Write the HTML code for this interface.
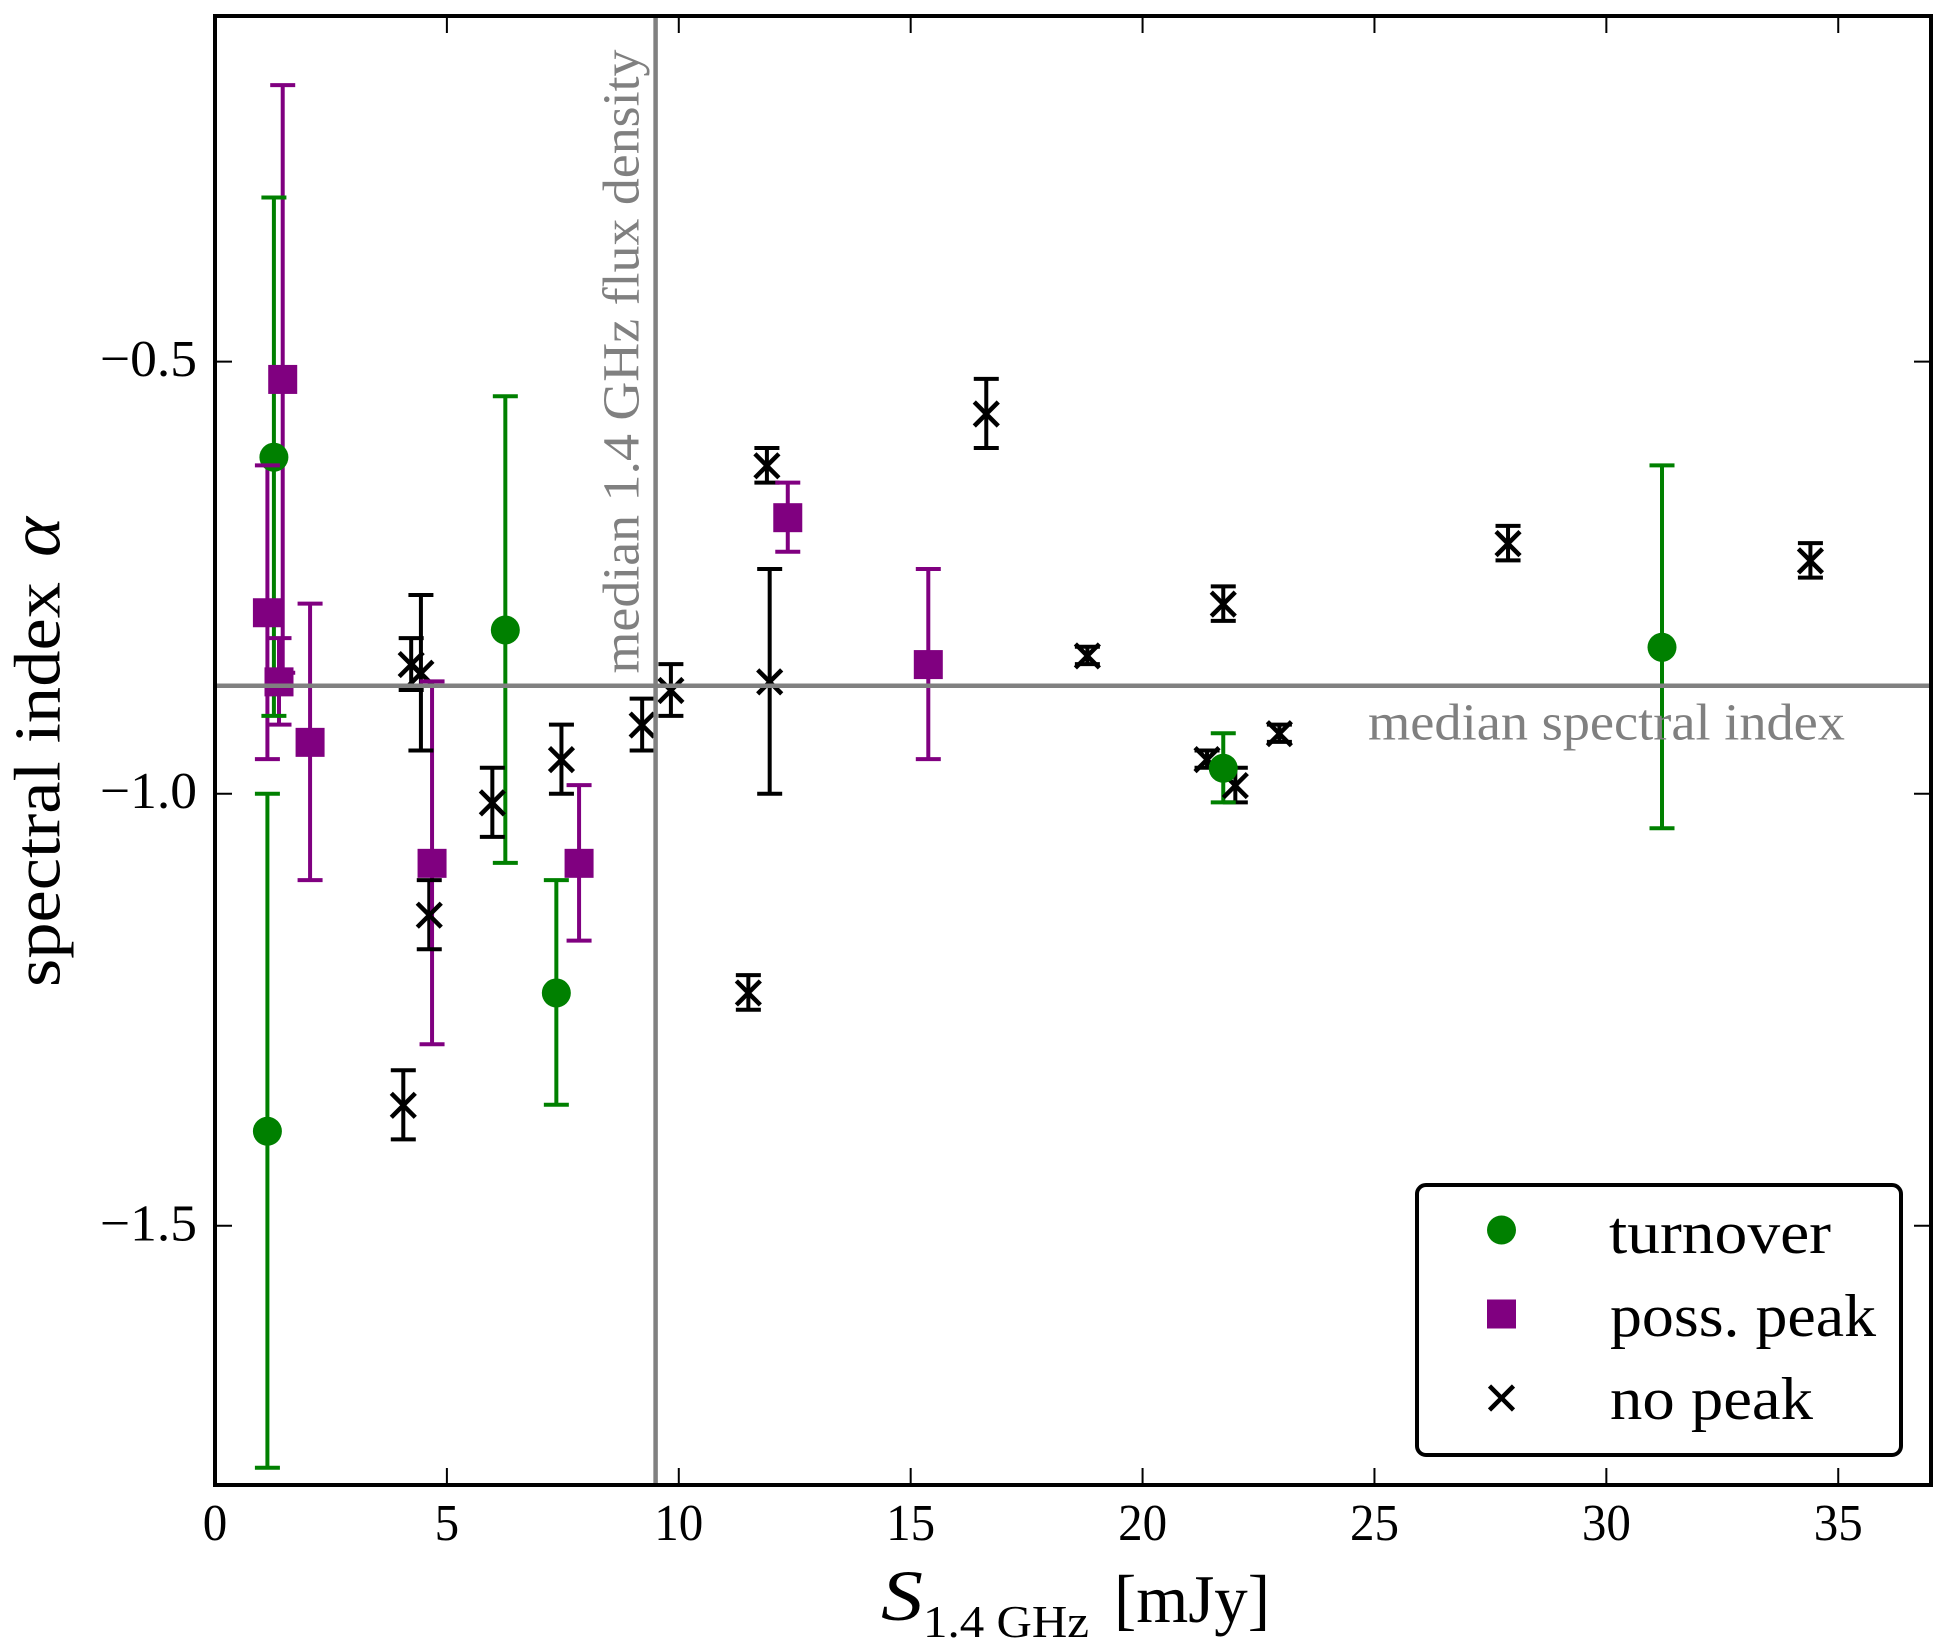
<!DOCTYPE html>
<html lang="en">
<head>
<meta charset="utf-8">
<title>Spectral index vs flux density</title>
<style>
html,body{margin:0;padding:0;background:#fff;width:1950px;height:1650px;overflow:hidden}
svg{display:block}
text{font-family:"Liberation Serif","DejaVu Serif",serif;fill:#000}
.gray{fill:#808080}
</style>
</head>
<body>
<svg id="chart" xmlns="http://www.w3.org/2000/svg" width="1950" height="1650" viewBox="0 0 1950 1650">
  <g id="bars"></g>
  <g id="marks"></g>
  <line id="median-v" stroke="#808080" stroke-width="4.5"></line>
  <line id="median-h" stroke="#808080" stroke-width="4.5"></line>
  <text class="gray" transform="translate(638.5,673.5) rotate(-90)" font-size="52" textLength="624" lengthAdjust="spacingAndGlyphs">median 1.4 GHz flux density</text>
  <text class="gray" x="1368" y="739.5" font-size="52" textLength="477" lengthAdjust="spacingAndGlyphs">median spectral index</text>
  <g id="ticks"></g>
  <rect x="215" y="16" width="1716" height="1469" fill="none" stroke="#000" stroke-width="4"></rect>
  <g>
    <text transform="translate(59.5,987) rotate(-90)" font-size="66" textLength="405" lengthAdjust="spacingAndGlyphs">spectral index</text>
    <text transform="translate(59.5,557) rotate(-90)" font-size="72" font-style="italic" textLength="40" lengthAdjust="spacingAndGlyphs">α</text>
  </g>
  <g>
    <text x="881" y="1620" font-size="72" font-style="italic" textLength="42" lengthAdjust="spacingAndGlyphs">S</text>
    <text x="923" y="1637" font-size="46" textLength="166" lengthAdjust="spacingAndGlyphs">1.4 GHz</text>
    <text x="1114" y="1622" font-size="68" textLength="156" lengthAdjust="spacingAndGlyphs">[mJy]</text>
  </g>
  <g>
    <rect x="1417" y="1185" width="484" height="270" rx="9" ry="9" fill="#fff" stroke="#000" stroke-width="4"></rect>
    <g id="legend-icons"></g>
    <text x="1609" y="1253" font-size="60" textLength="222" lengthAdjust="spacingAndGlyphs">turnover</text>
    <text x="1610" y="1336" font-size="60" textLength="266" lengthAdjust="spacingAndGlyphs">poss. peak</text>
    <text x="1610" y="1419" font-size="60" textLength="203" lengthAdjust="spacingAndGlyphs">no peak</text>
  </g>
</svg>
<script>
// Tick labels and values
const xTickValues = [0, 5, 10, 15, 20, 25, 30, 35];
const yTickValues = [-0.5, -1.0, -1.5];
const yTickLabels = ['\u22120.5', '\u22121.0', '\u22121.5'];

// Medians
const medianFlux = 9.5;
const medianIndex = -0.875;

// Turnover sources
const turnoverFlux = [1.13, 1.27, 6.26, 7.36, 21.74, 31.2];
const turnoverIndex = [-1.39, -0.61, -0.81, -1.23, -0.97, -0.83];
const turnoverUpper = [-1.0, -0.31, -0.54, -1.10, -0.93, -0.62];
const turnoverLower = [-1.78, -0.91, -1.08, -1.36, -1.01, -1.04];

// Possible peak sources
const possPeakFlux = [1.13, 1.46, 1.38, 2.05, 4.68, 7.85, 12.35, 15.38];
const possPeakIndex = [-0.79, -0.52, -0.87, -0.94, -1.08, -1.08, -0.68, -0.85];
const possPeakUpper = [-0.62, -0.18, -0.82, -0.78, -0.87, -0.99, -0.64, -0.74];
const possPeakLower = [-0.96, -0.86, -0.92, -1.10, -1.29, -1.17, -0.72, -0.96];

// No peak sources
const noPeakFlux = [4.06, 4.23, 4.44, 4.62, 5.98, 7.47, 9.21, 9.83, 11.5, 11.9, 11.96, 16.63, 18.81, 21.39, 21.74, 22.0, 22.95, 27.88, 34.4];
const noPeakIndex = [-1.36, -0.85, -0.86, -1.14, -1.01, -0.96, -0.92, -0.88, -1.23, -0.62, -0.87, -0.56, -0.84, -0.96, -0.78, -0.99, -0.93, -0.71, -0.73];
const noPeakUpper = [-1.32, -0.82, -0.77, -1.10, -0.97, -0.92, -0.89, -0.85, -1.21, -0.60, -0.74, -0.52, -0.83, -0.95, -0.76, -0.97, -0.92, -0.69, -0.71];
const noPeakLower = [-1.40, -0.88, -0.95, -1.18, -1.05, -1.00, -0.95, -0.91, -1.25, -0.64, -1.00, -0.60, -0.85, -0.97, -0.80, -1.01, -0.94, -0.73, -0.75];

const NS = 'http://www.w3.org/2000/svg';
const plot = {left: 215, right: 1931, top: 16, bottom: 1485};
const xMin = 0, xMax = 37, yMin = -1.8, yMax = -0.1;
function xScale(v) { return plot.left + (v - xMin) / (xMax - xMin) * (plot.right - plot.left); }
function yScale(v) { return plot.top + (yMax - v) / (yMax - yMin) * (plot.bottom - plot.top); }

function make(tag, parent, props) {
  const el = document.createElementNS(NS, tag);
  for (const k in props) el.setAttribute(k, props[k]);
  parent.appendChild(el);
  return el;
}

const barsG = document.getElementById('bars');
const marksG = document.getElementById('marks');
const ticksG = document.getElementById('ticks');
const legendG = document.getElementById('legend-icons');

function drawMarker(parent, kind, color, cx, cy, name) {
  if (kind === 'circle') {
    const c = make('circle', parent, {cx: cx, cy: cy, r: 14.5, fill: color});
    
    
  } else if (kind === 'square') {
    const r = make('rect', parent, {x: cx - 14.5, y: cy - 14.5, width: 29, height: 29, fill: color});
    
    
  } else {
    const p = make('path', parent, {
      d: 'M' + (cx - 12) + ' ' + (cy - 12) + 'L' + (cx + 12) + ' ' + (cy + 12) + 'M' + (cx - 12) + ' ' + (cy + 12) + 'L' + (cx + 12) + ' ' + (cy - 12),
      stroke: color, 'stroke-width': 4.5, fill: 'none'
    });
    
    
  }
}

function drawBars(fluxes, uppers, lowers, color, prefix) {
  fluxes.forEach(function (f, i) {
    const l = make('line', barsG, {x1: xScale(f), x2: xScale(f), y1: yScale(uppers[i]), y2: yScale(lowers[i]), stroke: color, 'stroke-width': 4});
    
    
  });
}

function drawMarks(fluxes, values, uppers, lowers, color, kind, prefix) {
  fluxes.forEach(function (f, i) {
    const x = xScale(f);
    [uppers[i], lowers[i]].forEach(function (v) {
      const cap = make('line', marksG, {x1: x - 12.5, x2: x + 12.5, y1: yScale(v), y2: yScale(v), stroke: color, 'stroke-width': 4});
      
      
    });
    drawMarker(marksG, kind, color, x, yScale(values[i]) + 0.5, prefix + '-point');
  });
}

drawBars(noPeakFlux, noPeakUpper, noPeakLower, '#000000', 'no-peak');
drawBars(turnoverFlux, turnoverUpper, turnoverLower, '#008000', 'turnover');
drawBars(possPeakFlux, possPeakUpper, possPeakLower, '#800080', 'poss-peak');
drawMarks(noPeakFlux, noPeakIndex, noPeakUpper, noPeakLower, '#000000', 'cross', 'no-peak');
drawMarks(turnoverFlux, turnoverIndex, turnoverUpper, turnoverLower, '#008000', 'circle', 'turnover');
drawMarks(possPeakFlux, possPeakIndex, possPeakUpper, possPeakLower, '#800080', 'square', 'poss-peak');

const mv = document.getElementById('median-v');
mv.setAttribute('x1', xScale(medianFlux));
mv.setAttribute('x2', xScale(medianFlux));
mv.setAttribute('y1', plot.top);
mv.setAttribute('y2', plot.bottom);
const mh = document.getElementById('median-h');
mh.setAttribute('x1', plot.left);
mh.setAttribute('x2', plot.right);
mh.setAttribute('y1', yScale(medianIndex));
mh.setAttribute('y2', yScale(medianIndex));

xTickValues.forEach(function (v) {
  const x = xScale(v);
  const t1 = make('line', ticksG, {x1: x, x2: x, y1: plot.bottom, y2: plot.bottom - 17, stroke: '#000', 'stroke-width': 2});
  
  
  const t2 = make('line', ticksG, {x1: x, x2: x, y1: plot.top, y2: plot.top + 17, stroke: '#000', 'stroke-width': 2});
  
  
  const lab = make('text', ticksG, {x: x, y: 1540, 'font-size': 52, 'text-anchor': 'middle', textLength: String(v).length * 24.5, lengthAdjust: 'spacingAndGlyphs'});
  
  
  lab.textContent = String(v);
});

yTickValues.forEach(function (v, i) {
  const y = yScale(v);
  const t1 = make('line', ticksG, {x1: plot.left, x2: plot.left + 17, y1: y, y2: y, stroke: '#000', 'stroke-width': 2});
  
  
  const t2 = make('line', ticksG, {x1: plot.right, x2: plot.right - 17, y1: y, y2: y, stroke: '#000', 'stroke-width': 2});
  
  
  const lab = make('text', ticksG, {x: 100, y: y + 14.5, 'font-size': 52, textLength: 97, lengthAdjust: 'spacingAndGlyphs'});
  
  
  lab.textContent = yTickLabels[i];
});

drawMarker(legendG, 'circle', '#008000', 1501.5, 1230, 'legend-marker-turnover');
drawMarker(legendG, 'square', '#800080', 1501.5, 1314, 'legend-marker-poss-peak');
drawMarker(legendG, 'cross', '#000000', 1501.5, 1398, 'legend-marker-no-peak');
</script>
</body>
</html>
